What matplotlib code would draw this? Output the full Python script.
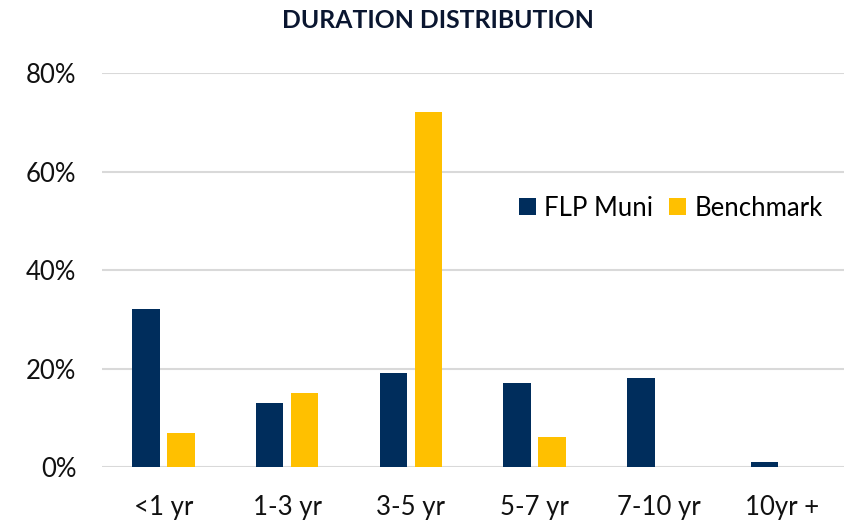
import numpy as np
import matplotlib.pyplot as plt

# données
categories = ['<1 yr', '1-3 yr', '3-5 yr', '5-7 yr', '7-10 yr', '10yr +']
flp_muni = [32, 13, 19, 17, 18, 1]
benchmark = [7, 15, 72, 6, 0, 0]
yticks = [0, 20, 40, 60, 80]

plt.rcParams['font.family'] = ['Lato', 'DejaVu Sans']

fig = plt.figure(figsize=(8.44, 5.2), dpi=100)
ax = fig.add_axes([0.1203, 0.1019, 0.8797, 0.7577])

x = np.arange(len(categories))
w = 0.222
ax.bar(x - 0.142, flp_muni, w, color='#002D5C', label='FLP Muni', zorder=3)
ax.bar(x + 0.142, benchmark, w, color='#FFC000', label='Benchmark', zorder=3)

ax.set_xlim(-0.5, len(categories) - 0.5)
ax.set_ylim(0, 80)
ax.set_yticks(yticks)
ax.set_yticklabels([f'{v}%' for v in yticks])
ax.set_xticks(x)
ax.set_xticklabels(categories)
ax.tick_params(axis='both', length=0, labelsize=18.5, colors='#111111')
ax.tick_params(axis='y', pad=18)
ax.tick_params(axis='x', pad=20)
ax.grid(axis='y', color='#d9d9d9', linewidth=1.5, zorder=0)
for s in ax.spines.values():
    s.set_visible(False)

ax.legend(loc='center left', bbox_to_anchor=(0.562, 0.657), ncol=2, frameon=False,
          fontsize=18.5, handlelength=0.65, handleheight=0.65, handletextpad=0.35,
          columnspacing=0.6, borderaxespad=0, borderpad=0)

fig.text(438 / 844, 1 - 21 / 520, 'DURATION DISTRIBUTION', ha='center', va='center',
         fontsize=17.8, fontweight='bold', color='#0a1630')

fig.savefig('out.png', dpi=100)
